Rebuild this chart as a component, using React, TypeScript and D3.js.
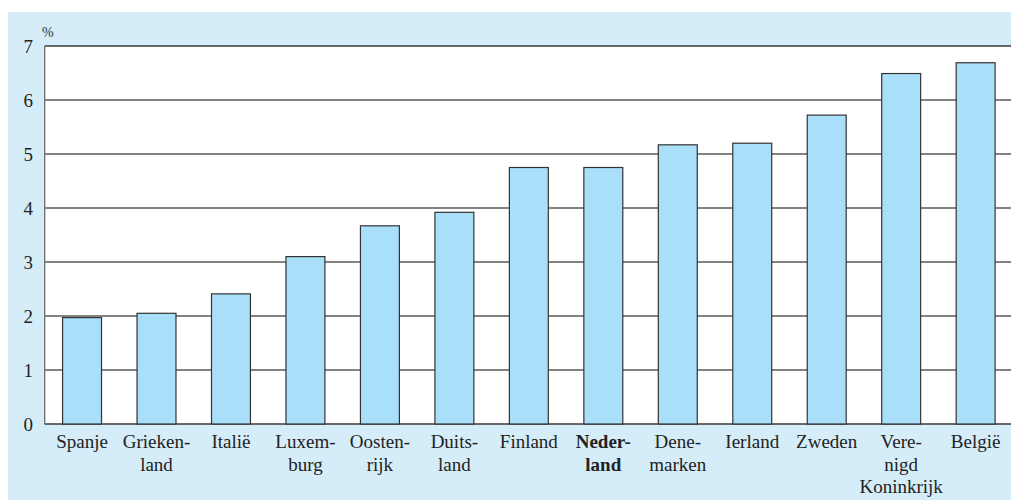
import React from "react";
import * as d3 from "d3";

const categories: string[][] = [
  ["Spanje"],
  ["Grieken-", "land"],
  ["Italië"],
  ["Luxem-", "burg"],
  ["Oosten-", "rijk"],
  ["Duits-", "land"],
  ["Finland"],
  ["Neder-", "land"],
  ["Dene-", "marken"],
  ["Ierland"],
  ["Zweden"],
  ["Vere-", "nigd", "Koninkrijk"],
  ["België"],
];
const values: number[] = [1.97, 2.05, 2.41, 3.1, 3.67, 3.92, 4.75, 4.75, 5.17, 5.2, 5.72, 6.49, 6.69];
const boldIndex: number[] = [7];
const yTicks: number[] = [0, 1, 2, 3, 4, 5, 6, 7];
const unitLabel = "%";

const W = 1011;
const H = 500;
const plotLeft = 44.7;
const plotTop = 46;
const plotBottom = 424;
const font = "'Liberation Serif', 'Times New Roman', serif";

export default function App() {
  const ids = categories.map((_, i) => String(i));
  const x = d3
    .scaleBand<string>()
    .domain(ids)
    .range([plotLeft, 1013])
    .paddingInner(0.477)
    .paddingOuter(0.24);
  const y = d3.scaleLinear().domain([0, 7]).range([plotBottom, plotTop]);

  return (
    <svg
      width={W}
      height={H}
      style={{ position: "absolute", left: 0, top: 0, display: "block" }}
    >
      <rect x={0} y={0} width={W} height={H} fill="#ffffff" />
      <rect x={8} y={12} width={W - 8} height={H - 12} fill="#d5ecf9" />
      <rect
        x={plotLeft}
        y={plotTop}
        width={W - plotLeft}
        height={plotBottom - plotTop}
        fill="#ffffff"
      />
      {yTicks.map((t) => (
        <line
          key={"g" + t}
          x1={plotLeft}
          x2={W}
          y1={y(t)}
          y2={y(t)}
          stroke={t === 7 || t === 0 ? "#3a3a3a" : "#5a5a5a"}
          strokeWidth={1.3}
        />
      ))}
      <line
        x1={plotLeft}
        x2={plotLeft}
        y1={plotTop}
        y2={plotBottom}
        stroke="#6a6a6a"
        strokeWidth={1.3}
      />
      {values.map((v, i) => (
        <rect
          key={"b" + i}
          x={x(String(i))}
          y={y(v)}
          width={x.bandwidth()}
          height={y(0) - y(v)}
          fill="#aadff9"
          stroke="#333333"
          strokeWidth={1.2}
        />
      ))}
      {yTicks.map((t) => (
        <text
          key={"t" + t}
          x={33}
          y={y(t) + 6.5}
          textAnchor="end"
          fontFamily={font}
          fontSize={19}
          fill="#222"
        >
          {t}
        </text>
      ))}
      <text x={42} y={37} fontFamily={font} fontSize={14} fill="#333">
        {unitLabel}
      </text>
      {categories.map((lines, i) => {
        const cx = (x(String(i)) as number) + x.bandwidth() / 2;
        return (
          <text
            key={"c" + i}
            x={cx}
            y={448}
            textAnchor="middle"
            fontFamily={font}
            fontSize={19}
            fontWeight={boldIndex.includes(i) ? "bold" : "normal"}
            fill="#222"
          >
            {lines.map((l, j) => (
              <tspan key={j} x={cx} dy={j === 0 ? 0 : 22.5}>
                {l}
              </tspan>
            ))}
          </text>
        );
      })}
    </svg>
  );
}
